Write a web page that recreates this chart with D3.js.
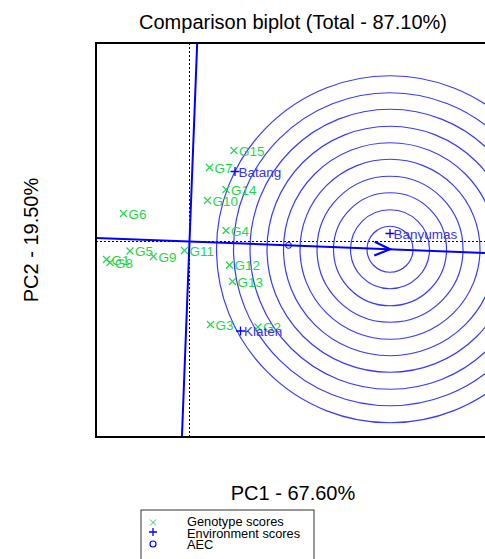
<!DOCTYPE html>
<html>
<head>
<meta charset="utf-8">
<script src="https://cdn.jsdelivr.net/npm/d3@7"></script>
<style>
  body { margin: 0; background: #fff; }
  svg { font-family: "Liberation Sans", Arial, sans-serif; }
</style>
</head>
<body>
<div id="chart"></div>
<script>
// genotype scores (PC1, PC2)
var genotypes = ["G1", "G2", "G3", "G4", "G5", "G6", "G7", "G8", "G9", "G10", "G11", "G12", "G13", "G14", "G15"];
var genoPC1 = [-1.66, 1.37, 0.42, 0.73, -1.19, -1.32, 0.40, -1.59, -0.72, 0.36, -0.10, 0.80, 0.86, 0.73, 0.89];
var genoPC2 = [-0.36, -1.71, -1.66, 0.22, -0.19, 0.56, 1.48, -0.42, -0.30, 0.82, -0.18, -0.47, -0.80, 1.04, 1.82];

// environment scores
var environments = ["Banyumas", "Batang", "Klaten"];
var envPC1 = [4.01, 0.91, 1.02];
var envPC2 = [0.16, 1.40, -1.79];

// concentric circles round the ideal environment
var circleRadii = [0.46, 0.79, 1.13, 1.46, 1.80, 2.13, 2.46, 2.80, 3.13, 3.47];

var xLimits = [-1.87, 6.01];
var yLimits = [-3.91, 3.97];

var titleText = "Comparison biplot (Total - 87.10%)";
var xLabel = "PC1 - 67.60%";
var yLabel = "PC2 - 19.50%";
var legendLabels = ["Genotype scores", "Environment scores", "AEC"];

var W = 485, H = 559;
var box = { left: 96, top: 43, size: 394 };
var green = "#1fd64a", blue = "#0000ff";

var svg = d3.select("#chart").append("svg")
    .attr("width", W)
    .attr("height", H);

var x = d3.scaleLinear().domain(xLimits).range([box.left, box.left + box.size]);
var y = d3.scaleLinear().domain(yLimits).range([box.top + box.size, box.top]);

svg.append("clipPath").attr("id", "plotclip")
  .append("rect")
    .attr("x", box.left).attr("y", box.top)
    .attr("width", box.size).attr("height", box.size);

var plot = svg.append("g").attr("clip-path", "url(#plotclip)");

// average environment coordinate and the ideal environment on the AEC axis
var aec = [d3.mean(envPC1), d3.mean(envPC2)];
var aecLen = Math.hypot(aec[0], aec[1]);
var dir = [aec[0] / aecLen, aec[1] / aecLen];
var maxLen = d3.max(envPC1.map(function(v, i) { return Math.hypot(v, envPC2[i]); }));
var ideal = [dir[0] * maxLen, dir[1] * maxLen];

// dotted zero lines
plot.append("line")
    .attr("x1", x(0)).attr("x2", x(0))
    .attr("y1", box.top).attr("y2", box.top + box.size)
    .attr("stroke", "#000").attr("stroke-width", 1).attr("stroke-dasharray", "2,2");
plot.append("line")
    .attr("x1", box.left).attr("x2", box.left + box.size)
    .attr("y1", y(0)).attr("y2", y(0))
    .attr("stroke", "#000").attr("stroke-width", 1).attr("stroke-dasharray", "2,2");

// circles
plot.selectAll("circle.ring")
    .data(circleRadii)
  .enter().append("circle")
    .attr("class", "ring")
    .attr("cx", x(ideal[0]))
    .attr("cy", y(ideal[1]))
    .attr("r", function(r) { return x(r) - x(0); })
    .attr("fill", "none")
    .attr("stroke", "#3a3aff")
    .attr("stroke-width", 1.2);

// AEC abscissa and ordinate through the origin
var far = 20;
plot.append("line")
    .attr("x1", x(-dir[0] * far)).attr("y1", y(-dir[1] * far))
    .attr("x2", x(dir[0] * far)).attr("y2", y(dir[1] * far))
    .attr("stroke", blue).attr("stroke-width", 2);
plot.append("line")
    .attr("x1", x(dir[1] * far)).attr("y1", y(-dir[0] * far))
    .attr("x2", x(-dir[1] * far)).attr("y2", y(dir[0] * far))
    .attr("stroke", blue).attr("stroke-width", 2);

// arrow to the ideal environment
var tip = [x(ideal[0]), y(ideal[1])];
var ang = Math.atan2(tip[1] - y(0), tip[0] - x(0));
var headLen = 17, headAng = 0.42;
plot.append("path")
    .attr("d", "M" + (tip[0] - headLen * Math.cos(ang - headAng)) + "," + (tip[1] - headLen * Math.sin(ang - headAng)) +
               "L" + tip[0] + "," + tip[1] +
               "L" + (tip[0] - headLen * Math.cos(ang + headAng)) + "," + (tip[1] - headLen * Math.sin(ang + headAng)))
    .attr("fill", "none").attr("stroke", blue).attr("stroke-width", 2.2);

// AEC marker
plot.append("circle")
    .attr("cx", x(aec[0])).attr("cy", y(aec[1]))
    .attr("r", 3)
    .attr("fill", "none").attr("stroke", blue).attr("stroke-width", 1);

// genotypes
var geno = plot.selectAll("g.geno")
    .data(genotypes)
  .enter().append("g")
    .attr("class", "geno")
    .attr("transform", function(d, i) { return "translate(" + x(genoPC1[i]) + "," + y(genoPC2[i]) + ")"; });
geno.append("path")
    .attr("d", "M-3.5,-3.5L3.5,3.5M-3.5,3.5L3.5,-3.5")
    .attr("stroke", green).attr("stroke-width", 1.1);
geno.append("text")
    .attr("x", 5).attr("y", 5)
    .attr("font-size", 13.5)
    .attr("fill", green)
    .text(function(d) { return d; });

// environments
var env = plot.selectAll("g.env")
    .data(environments)
  .enter().append("g")
    .attr("class", "env")
    .attr("transform", function(d, i) { return "translate(" + x(envPC1[i]) + "," + y(envPC2[i]) + ")"; });
env.append("path")
    .attr("d", "M-4.5,0L4.5,0M0,-4.5L0,4.5")
    .attr("stroke", blue).attr("stroke-width", 1.3);
env.append("text")
    .attr("x", 3.5).attr("y", 5)
    .attr("font-size", 13.5)
    .attr("fill", "#3535ee")
    .text(function(d) { return d; });

// frame
svg.append("rect")
    .attr("x", box.left).attr("y", box.top)
    .attr("width", box.size).attr("height", box.size)
    .attr("fill", "none").attr("stroke", "#000").attr("stroke-width", 2);

// titles
svg.append("text")
    .attr("x", box.left + box.size / 2).attr("y", 29)
    .attr("text-anchor", "middle").attr("font-size", 20)
    .text(titleText);
svg.append("text")
    .attr("x", box.left + box.size / 2).attr("y", 500)
    .attr("text-anchor", "middle").attr("font-size", 20)
    .text(xLabel);
svg.append("text")
    .attr("transform", "translate(38," + (box.top + box.size / 2) + ") rotate(-90)")
    .attr("text-anchor", "middle").attr("font-size", 20)
    .text(yLabel);

// legend
var legend = svg.append("g");
legend.append("rect")
    .attr("x", 141).attr("y", 510)
    .attr("width", 173).attr("height", 60)
    .attr("fill", "none").attr("stroke", "#333").attr("stroke-width", 1);
var rowY = [526, 537.5, 549];
legendLabels.forEach(function(lab, i) {
    legend.append("text")
        .attr("x", 187).attr("y", rowY[i])
        .attr("font-size", 12.8)
        .text(lab);
});
legend.append("path")
    .attr("d", "M150,519.5L156,525.5M150,525.5L156,519.5")
    .attr("stroke", green).attr("stroke-width", 1);
legend.append("path")
    .attr("d", "M149,532L157,532M153,528L153,536")
    .attr("stroke", blue).attr("stroke-width", 1.3);
legend.append("circle")
    .attr("cx", 153).attr("cy", 544).attr("r", 3)
    .attr("fill", "none").attr("stroke", blue).attr("stroke-width", 1.2);
</script>
</body>
</html>
